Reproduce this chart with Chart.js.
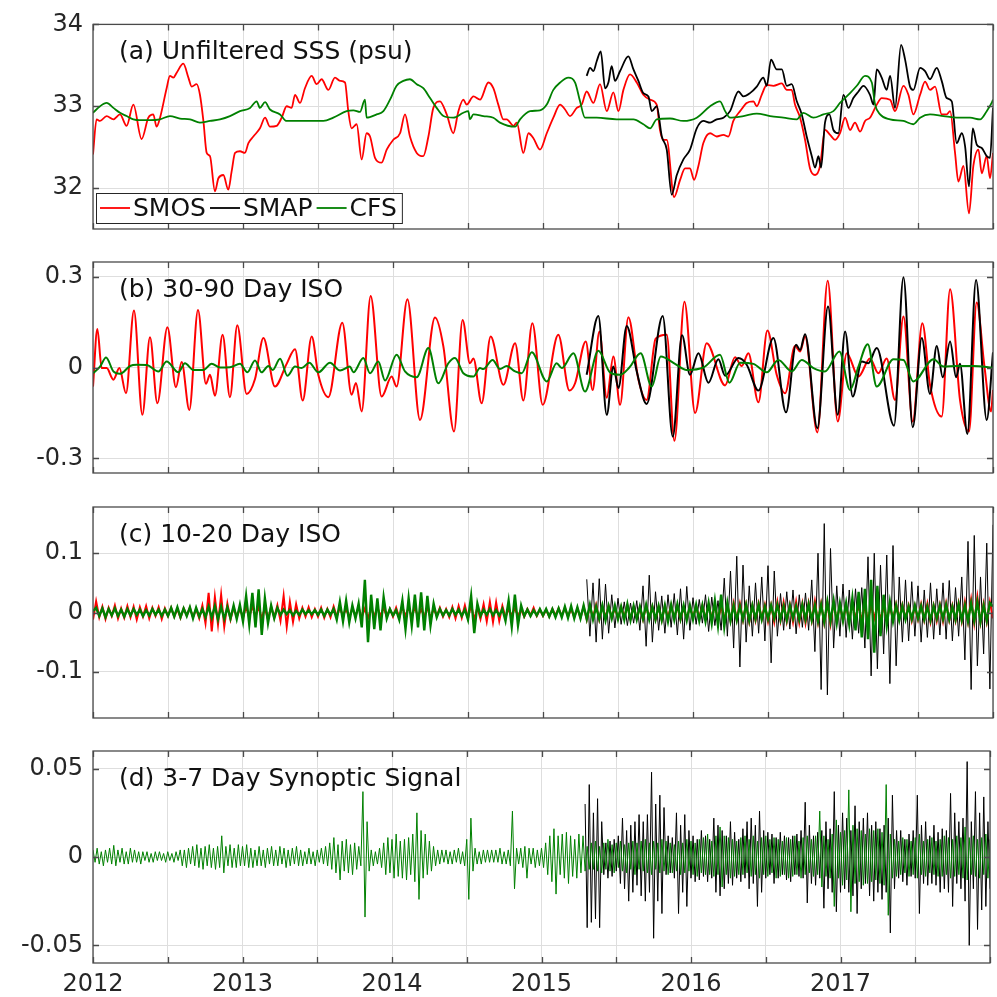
<!DOCTYPE html>
<html>
<head>
<meta charset="utf-8">
<script src="https://cdn.jsdelivr.net/npm/chart.js@4.4.1/dist/chart.umd.min.js"></script>
<style>
html, body { margin: 0; padding: 0; background: #fff; }
#wrap { position: relative; width: 997px; height: 997px; overflow: hidden; }
#wrap canvas { position: absolute; left: 0; top: 0; }
</style>
</head>
<body>
<div id="wrap">
  <canvas id="pa" width="997" height="997"></canvas>
  <canvas id="pb" width="997" height="997"></canvas>
  <canvas id="pc" width="997" height="997"></canvas>
  <canvas id="pd" width="997" height="997"></canvas>
</div>
<script>
'use strict';
// ---- axis / labels ----
const xTicks = [2012, 2012.5, 2013, 2013.5, 2014, 2014.5, 2015, 2015.5, 2016, 2016.5, 2017, 2017.5, 2018];
const titles = ['(a) Unfiltered SSS (psu)', '(b) 30-90 Day ISO', '(c) 10-20 Day ISO', '(d) 3-7 Day Synoptic Signal'];
const seriesNames = ['SMOS', 'SMAP', 'CFS'];
const yTicksA = [32, 33, 34];
const yTicksB = [-0.3, 0, 0.3];
const yTicksC = [-0.1, 0, 0.1];
const yTicksD = [-0.05, 0, 0.05];

// ---- (a) unfiltered SSS, [year, psu] ----
const smosA = [[2012.000,32.41],[2012.024,32.84],[2012.047,32.82],[2012.091,32.88],[2012.136,32.84],[2012.180,32.90],[2012.224,32.76],[2012.269,33.02],[2012.324,32.60],[2012.369,32.86],[2012.402,32.90],[2012.424,32.75],[2012.447,32.86],[2012.491,33.22],[2012.513,33.37],[2012.536,33.35],[2012.558,33.41],[2012.602,33.52],[2012.636,33.35],[2012.658,33.24],[2012.691,33.27],[2012.713,33.14],[2012.736,32.82],[2012.758,32.43],[2012.780,32.39],[2012.813,31.96],[2012.836,32.12],[2012.869,32.16],[2012.902,31.98],[2012.924,32.20],[2012.947,32.43],[2012.980,32.45],[2013.013,32.43],[2013.036,32.55],[2013.069,32.63],[2013.113,32.73],[2013.147,32.86],[2013.180,32.75],[2013.224,32.76],[2013.258,32.86],[2013.291,33.00],[2013.324,32.98],[2013.347,33.14],[2013.380,33.04],[2013.413,33.22],[2013.458,33.37],[2013.491,33.27],[2013.524,33.33],[2013.569,33.20],[2013.613,33.35],[2013.647,33.31],[2013.680,33.29],[2013.702,32.94],[2013.724,32.73],[2013.758,32.78],[2013.791,32.35],[2013.824,32.67],[2013.847,32.63],[2013.880,32.37],[2013.924,32.31],[2013.958,32.47],[2014.002,32.59],[2014.047,32.67],[2014.080,32.90],[2014.113,32.63],[2014.158,32.43],[2014.202,32.39],[2014.236,32.63],[2014.269,32.98],[2014.313,33.06],[2014.358,32.90],[2014.402,32.67],[2014.436,32.94],[2014.469,33.08],[2014.491,33.02],[2014.536,33.12],[2014.580,33.08],[2014.636,33.29],[2014.669,33.22],[2014.702,33.02],[2014.736,32.84],[2014.758,32.84],[2014.803,32.76],[2014.825,32.80],[2014.869,32.43],[2014.903,32.67],[2014.936,32.61],[2014.980,32.47],[2015.025,32.67],[2015.069,32.86],[2015.114,33.02],[2015.147,32.96],[2015.180,32.88],[2015.225,32.98],[2015.258,33.02],[2015.291,33.18],[2015.336,33.04],[2015.380,33.27],[2015.425,32.94],[2015.469,33.17],[2015.503,32.94],[2015.536,33.20],[2015.580,33.39],[2015.625,33.29],[2015.669,33.14],[2015.714,33.08],[2015.758,33.02],[2015.780,32.71],[2015.803,32.59],[2015.825,32.59],[2015.874,31.89],[2015.914,32.10],[2015.947,32.24],[2015.980,32.24],[2016.007,32.10],[2016.036,32.27],[2016.069,32.55],[2016.114,32.67],[2016.158,32.63],[2016.203,32.65],[2016.236,32.63],[2016.269,32.82],[2016.314,32.94],[2016.358,33.04],[2016.403,33.06],[2016.425,33.00],[2016.458,33.14],[2016.492,33.26],[2016.536,33.25],[2016.592,33.28],[2016.625,33.20],[2016.658,33.20],[2016.680,33.02],[2016.714,32.86],[2016.747,32.59],[2016.780,32.24],[2016.814,32.16],[2016.847,32.27],[2016.880,32.71],[2016.914,32.65],[2016.947,32.59],[2016.980,32.67],[2017.014,32.86],[2017.047,32.71],[2017.080,32.80],[2017.114,32.69],[2017.147,32.82],[2017.180,32.86],[2017.225,33.02],[2017.258,33.10],[2017.314,33.08],[2017.347,32.94],[2017.403,33.25],[2017.436,33.14],[2017.469,32.90],[2017.514,33.14],[2017.547,33.30],[2017.580,33.20],[2017.614,33.24],[2017.658,32.90],[2017.691,32.90],[2017.714,32.94],[2017.747,32.43],[2017.769,32.08],[2017.803,32.27],[2017.840,31.69],[2017.869,32.27],[2017.903,32.47],[2017.925,32.18],[2017.958,32.39],[2017.980,32.12],[2018.000,32.43]];
const smapA = [[2015.291,33.37],[2015.314,33.47],[2015.336,33.43],[2015.358,33.55],[2015.385,33.67],[2015.414,33.22],[2015.436,33.29],[2015.458,33.49],[2015.480,33.31],[2015.514,33.43],[2015.569,33.61],[2015.603,33.45],[2015.636,33.31],[2015.669,33.16],[2015.703,33.12],[2015.725,32.94],[2015.758,33.00],[2015.792,32.63],[2015.825,32.47],[2015.858,31.92],[2015.892,32.16],[2015.936,32.35],[2015.980,32.47],[2016.025,32.73],[2016.069,32.82],[2016.114,32.80],[2016.158,32.84],[2016.203,32.86],[2016.247,32.94],[2016.303,33.18],[2016.336,33.12],[2016.380,33.16],[2016.425,33.24],[2016.469,33.35],[2016.492,33.25],[2016.520,33.57],[2016.558,33.45],[2016.592,33.45],[2016.625,33.25],[2016.658,33.27],[2016.692,33.06],[2016.725,32.90],[2016.758,32.63],[2016.792,32.39],[2016.814,32.25],[2016.836,32.39],[2016.854,32.25],[2016.880,32.80],[2016.909,32.90],[2016.936,32.71],[2016.969,32.67],[2017.003,33.14],[2017.036,32.98],[2017.069,33.10],[2017.103,33.18],[2017.136,33.25],[2017.180,33.14],[2017.203,33.02],[2017.225,33.45],[2017.258,33.35],[2017.291,33.20],[2017.314,33.37],[2017.347,32.98],[2017.387,33.75],[2017.414,33.57],[2017.447,33.24],[2017.469,33.20],[2017.514,33.47],[2017.547,33.43],[2017.580,33.33],[2017.625,33.47],[2017.658,33.31],[2017.691,33.10],[2017.725,33.06],[2017.758,32.55],[2017.792,32.67],[2017.814,32.51],[2017.840,32.02],[2017.865,32.73],[2017.892,32.53],[2017.925,32.49],[2017.958,32.39],[2017.980,32.37],[2018.000,32.98]];
const cfsA = [[2012.000,32.92],[2012.047,33.00],[2012.091,33.04],[2012.136,32.98],[2012.180,32.92],[2012.224,32.88],[2012.269,32.84],[2012.313,32.83],[2012.380,32.83],[2012.447,32.84],[2012.513,32.88],[2012.580,32.85],[2012.647,32.84],[2012.713,32.80],[2012.780,32.82],[2012.847,32.84],[2012.913,32.88],[2012.980,32.94],[2013.047,32.98],[2013.091,33.06],[2013.113,32.98],[2013.147,33.05],[2013.180,32.96],[2013.247,32.90],[2013.291,32.82],[2013.380,32.82],[2013.469,32.82],[2013.536,32.82],[2013.602,32.86],[2013.691,32.94],[2013.736,32.95],[2013.780,32.93],[2013.813,33.08],[2013.824,32.86],[2013.891,32.90],[2013.936,32.94],[2013.980,33.08],[2014.024,33.25],[2014.069,33.31],[2014.113,33.33],[2014.158,33.27],[2014.202,33.22],[2014.247,33.10],[2014.291,32.98],[2014.336,32.88],[2014.402,32.86],[2014.469,32.92],[2014.502,32.94],[2014.513,32.84],[2014.536,32.90],[2014.602,32.88],[2014.669,32.86],[2014.713,32.80],[2014.814,32.75],[2014.847,32.84],[2014.914,32.94],[2014.980,32.95],[2015.025,33.02],[2015.069,33.20],[2015.114,33.29],[2015.169,33.35],[2015.214,33.29],[2015.247,33.06],[2015.280,32.86],[2015.358,32.86],[2015.491,32.84],[2015.603,32.84],[2015.669,32.78],[2015.714,32.73],[2015.758,32.84],[2015.847,32.85],[2015.936,32.82],[2016.025,32.86],[2016.114,33.00],[2016.180,33.06],[2016.214,32.94],[2016.247,32.86],[2016.336,32.88],[2016.425,32.91],[2016.514,32.88],[2016.603,32.86],[2016.692,32.84],[2016.736,32.92],[2016.803,32.86],[2016.869,32.90],[2016.936,32.94],[2016.980,33.04],[2017.047,33.16],[2017.092,33.25],[2017.147,33.37],[2017.192,33.29],[2017.214,33.02],[2017.247,32.90],[2017.314,32.84],[2017.403,32.82],[2017.469,32.78],[2017.514,32.86],[2017.580,32.90],[2017.669,32.88],[2017.758,32.86],[2017.847,32.86],[2017.914,32.84],[2017.958,32.94],[2017.991,33.04],[2018.000,33.08]];

// ---- (b) 30-90 day band, [year, psu] ----
const smosB = [[2012.000,-0.063],[2012.029,0.127],[2012.058,-0.002],[2012.091,-0.002],[2012.136,-0.040],[2012.176,-0.002],[2012.220,-0.085],[2012.273,0.188],[2012.329,-0.156],[2012.380,0.100],[2012.429,-0.118],[2012.496,0.133],[2012.553,-0.065],[2012.591,0.018],[2012.642,-0.140],[2012.700,0.190],[2012.753,-0.054],[2012.780,-0.024],[2012.813,-0.093],[2012.864,0.108],[2012.913,-0.098],[2012.962,0.139],[2013.024,-0.087],[2013.080,-0.038],[2013.136,0.097],[2013.213,-0.063],[2013.291,0.012],[2013.347,0.060],[2013.398,-0.109],[2013.458,0.102],[2013.502,-0.024],[2013.569,-0.098],[2013.662,0.148],[2013.724,-0.090],[2013.753,-0.051],[2013.791,-0.145],[2013.851,0.236],[2013.924,-0.096],[2013.991,-0.030],[2014.024,-0.063],[2014.096,0.225],[2014.180,-0.173],[2014.280,0.165],[2014.336,0.069],[2014.407,-0.211],[2014.464,0.157],[2014.513,0.014],[2014.536,0.030],[2014.591,-0.118],[2014.651,0.102],[2014.736,-0.057],[2014.814,0.080],[2014.869,-0.109],[2014.929,0.146],[2014.998,-0.123],[2015.102,0.108],[2015.176,-0.076],[2015.214,-0.052],[2015.285,0.086],[2015.331,-0.074],[2015.376,0.119],[2015.425,-0.100],[2015.469,0.036],[2015.514,-0.123],[2015.569,0.166],[2015.636,-0.040],[2015.691,-0.107],[2015.751,0.095],[2015.825,0.108],[2015.876,-0.242],[2015.943,0.217],[2016.014,-0.150],[2016.091,0.080],[2016.214,-0.059],[2016.280,0.034],[2016.325,0.005],[2016.369,0.047],[2016.436,-0.115],[2016.496,0.122],[2016.558,-0.024],[2016.614,-0.085],[2016.680,0.071],[2016.714,0.053],[2016.747,0.102],[2016.829,-0.214],[2016.898,0.286],[2016.965,-0.178],[2017.025,0.047],[2017.103,-0.030],[2017.180,0.030],[2017.236,-0.019],[2017.291,0.030],[2017.347,-0.107],[2017.403,0.168],[2017.465,-0.178],[2017.529,0.146],[2017.580,-0.057],[2017.658,-0.162],[2017.714,0.258],[2017.780,-0.107],[2017.840,-0.211],[2017.891,0.214],[2017.943,0.003],[2017.987,-0.145],[2018.000,-0.074]];
const smapB = [[2015.291,-0.024],[2015.369,0.170],[2015.425,-0.156],[2015.469,0.003],[2015.503,-0.068],[2015.558,0.137],[2015.625,-0.013],[2015.691,-0.120],[2015.798,0.170],[2015.865,-0.228],[2015.927,0.106],[2015.980,-0.024],[2016.036,0.047],[2016.103,-0.050],[2016.169,0.027],[2016.214,-0.027],[2016.303,0.031],[2016.358,0.009],[2016.436,-0.076],[2016.536,0.097],[2016.620,-0.148],[2016.687,0.075],[2016.714,0.058],[2016.747,0.110],[2016.829,-0.200],[2016.900,0.201],[2016.965,-0.156],[2017.014,0.119],[2017.065,-0.096],[2017.125,0.020],[2017.169,0.014],[2017.225,0.064],[2017.340,-0.192],[2017.403,0.298],[2017.465,-0.197],[2017.525,0.097],[2017.580,-0.087],[2017.625,0.071],[2017.665,-0.032],[2017.714,0.086],[2017.754,-0.032],[2017.780,0.012],[2017.829,-0.219],[2017.887,0.289],[2017.958,-0.173],[2018.000,0.050]];
const cfsB = [[2012.000,-0.019],[2012.047,0.003],[2012.087,0.033],[2012.136,-0.013],[2012.180,-0.021],[2012.247,0.005],[2012.291,0.009],[2012.358,0.008],[2012.436,-0.013],[2012.491,0.020],[2012.569,-0.016],[2012.613,0.014],[2012.669,-0.008],[2012.736,-0.008],[2012.791,0.012],[2012.847,0.000],[2012.913,0.001],[2012.980,0.012],[2013.029,-0.016],[2013.080,0.023],[2013.124,-0.016],[2013.169,0.005],[2013.198,-0.008],[2013.247,0.029],[2013.296,-0.027],[2013.347,0.003],[2013.391,-0.002],[2013.442,0.016],[2013.502,-0.016],[2013.580,0.016],[2013.647,-0.010],[2013.713,0.003],[2013.736,-0.016],[2013.802,0.031],[2013.847,-0.019],[2013.902,0.020],[2013.947,-0.043],[2014.024,0.042],[2014.080,-0.013],[2014.158,-0.032],[2014.236,0.064],[2014.302,-0.052],[2014.369,0.014],[2014.413,0.031],[2014.469,-0.019],[2014.536,-0.030],[2014.580,-0.002],[2014.602,-0.005],[2014.664,0.025],[2014.713,-0.005],[2014.758,0.005],[2014.814,-0.013],[2014.858,-0.019],[2014.925,0.050],[2015.025,-0.046],[2015.091,0.014],[2015.125,-0.002],[2015.203,0.047],[2015.280,-0.079],[2015.369,0.055],[2015.447,-0.016],[2015.514,-0.024],[2015.576,0.000],[2015.651,0.047],[2015.725,-0.063],[2015.785,0.036],[2015.880,0.012],[2015.958,-0.008],[2016.069,0.000],[2016.180,0.042],[2016.243,-0.050],[2016.314,0.016],[2016.403,0.012],[2016.492,-0.016],[2016.569,0.025],[2016.658,-0.013],[2016.725,0.025],[2016.803,-0.002],[2016.880,-0.013],[2016.976,0.053],[2017.047,-0.074],[2017.103,0.003],[2017.165,0.077],[2017.225,-0.063],[2017.336,0.027],[2017.403,0.025],[2017.469,-0.046],[2017.603,0.027],[2017.669,0.003],[2017.758,0.005],[2017.869,0.005],[2018.000,-0.001]];

// ---- (c) 10-20 day band, regular samples (start year, step in years) ----
const startC = 2012, stepC = 1 / 48;
const smosC = [
  -.012,.019,-.008,.010,-.011,.008,-.006,.012,-.010,.007,-.009,.011,
  -.008,.010,-.012,.009,-.007,.011,-.010,.008,-.006,.009,-.011,.007,
  -.006,.008,-.007,.006,-.009,.007,-.005,.008,-.008,.006,-.010,.012,
  -.018,.033,-.032,.026,-.020,.030,-.024,.015,-.012,.009,-.008,.007,
  -.009,.010,-.008,.011,-.007,.009,-.010,.008,-.012,.010,-.009,.012,
  -.014,.028,-.024,.018,-.016,.014,-.010,.008,-.007,.009,-.008,.006,
  -.007,.008,-.009,.006,-.008,.010,-.007,.008,-.006,.007,-.009,.008,
  -.006,.009,-.008,.007,-.010,.008,-.007,.009,-.006,.008,-.007,.006,
  -.007,.008,-.009,.010,-.006,.008,-.007,.009,-.008,.006,-.007,.008,
  -.009,.007,-.006,.008,-.007,.006,-.008,.009,-.010,.011,-.009,.012,
  -.010,.013,-.012,.009,-.011,.014,-.015,.018,-.016,.017,-.014,.011,
  -.008,.006,-.005,.007,-.006,.005,-.007,.006,-.005,.008,-.006,.005,
  -.006,.005,-.007,.006,-.005,.007,-.006,.008,-.007,.006,-.008,.007,
  -.009,.010,-.012,.011,-.009,.013,-.012,.010,-.008,.011,-.009,.008,
  -.010,.009,-.008,.012,-.011,.009,-.010,.008,-.012,.011,-.009,.010,
  -.012,.010,-.013,.011,-.009,.012,-.010,.011,-.012,.009,-.011,.010,
  -.008,.010,-.009,.012,-.011,.013,-.010,.012,-.014,.011,-.012,.013,
  -.014,.016,-.012,.015,-.013,.014,-.016,.012,-.014,.015,-.011,.013,
  -.015,.012,-.016,.018,-.014,.017,-.015,.013,-.016,.018,-.017,.015,
  -.018,.016,-.014,.019,-.017,.015,-.018,.016,-.020,.017,-.015,.012,
  -.013,.011,-.012,.014,-.010,.012,-.013,.011,-.014,.012,-.010,.013,
  -.012,.010,-.013,.011,-.012,.014,-.011,.013,-.010,.012,-.014,.011,
  -.012,.014,-.013,.015,-.016,.012,-.014,.013,-.015,.016,-.013,.012,
  -.014,.016,-.015,.018,-.016,.022,-.018,.026,-.017,.015,-.016,.018,
  -.010];
const cfsC = [
  .002,.008,-.006,.007,-.008,.006,-.005,.007,-.006,.005,-.007,.006,
  -.005,.006,-.004,.005,-.006,.004,-.005,.006,-.004,.005,-.006,.005,
  -.006,.008,-.007,.009,-.008,.007,-.006,.009,-.010,.008,-.007,.006,
  -.008,.010,-.009,.011,-.012,.010,-.011,.009,-.010,.012,-.011,.013,
  -.015,.028,-.020,.033,-.025,.039,-.038,.024,-.018,.012,-.010,.008,
  -.004,.005,-.003,.004,-.005,.003,-.004,.005,-.003,.004,-.003,.004,
  -.004,.005,-.006,.005,-.004,.006,-.012,.018,-.015,.020,-.017,.012,
  -.010,.015,-.025,.055,-.050,.030,-.028,.024,-.030,.026,-.010,.006,
  -.005,.004,-.012,.020,-.028,.024,-.022,.030,-.025,.034,-.030,.028,
  -.022,.015,-.008,.006,-.005,.004,-.005,.006,-.004,.005,-.006,.005,
  -.012,.028,-.035,.015,-.006,.005,-.004,.006,-.005,.004,-.005,.006,
  -.014,.020,-.024,.030,-.022,.012,-.006,.005,-.006,.004,-.005,.006,
  -.005,.006,-.007,.006,-.008,.007,-.008,.010,-.009,.011,-.010,.009,
  -.010,.012,-.011,.013,-.012,.010,-.011,.012,-.013,.011,-.010,.012,
  -.011,.010,-.012,.014,-.013,.011,-.012,.010,-.011,.013,-.012,.010,
  -.012,.011,-.013,.012,-.015,.013,-.012,.014,-.011,.012,-.013,.012,
  -.012,.013,-.014,.012,-.015,.016,-.018,.020,-.022,.030,-.024,.016,
  -.014,.012,-.013,.011,-.012,.013,-.014,.012,-.011,.013,-.012,.010,
  -.011,.012,-.010,.013,-.012,.011,-.013,.012,-.010,.011,-.012,.013,
  -.012,.014,-.013,.012,-.015,.013,-.016,.018,-.015,.020,-.018,.016,
  -.014,.016,-.020,.024,-.030,.035,-.042,.040,-.045,.055,-.068,.045,
  -.040,.030,-.022,.018,-.015,.012,-.013,.011,-.012,.010,-.011,.012,
  -.010,.011,-.012,.010,-.013,.011,-.010,.012,-.011,.013,-.012,.010,
  -.012,.014,-.013,.012,-.015,.016,-.014,.018,-.016,.012,-.014,.016,
  .010];
const smapStartC = 2015 + 14 / 48;
const smapC = [
  .056,-.040,.050,-.050,.057,-.045,.048,-.035,.030,
  -.026,.024,-.020,.018,-.022,.016,-.018,.020,
  -.030,.045,-.057,.063,-.050,.035,
  -.030,.028,-.035,.030,-.025,.032,-.038,.040,-.045,.044,-.030,
  .025,-.020,.022,-.018,.030,-.032,.026,-.022,.020,
  -.030,.058,-.040,.070,-.060,.095,-.092,.080,
  -.050,.045,-.040,.050,-.035,.060,-.048,.079,-.085,.070,
  -.040,.032,-.030,.035,-.028,.038,-.036,.030,-.025,.033,-.030,
  .055,-.066,.100,-.130,.150,-.139,.108,-.060,
  .045,-.040,.048,-.042,.038,-.045,.040,-.035,.042,
  -.060,.094,-.107,.100,-.095,.080,-.070,.097,-.120,.113,-.090,.060,-.050,
  .055,-.048,.052,-.040,.045,-.050,.038,-.042,.050,-.045,.040,-.038,
  .050,-.045,.054,-.048,.042,-.040,.060,
  -.080,.120,-.130,.130,-.090,.060,-.070,.117,-.129,.148];

// ---- (d) 3-7 day band, regular samples ----
const startD = 2012, stepD = 1 / 72;
const cfsD = [
  .004,-.003,.005,-.004,.003,-.005,.004,-.003,.005,-.004,.0066,-.005,.004,-.003,.005,-.004,.003,-.004,.005,-.003,.004,-.003,.003,-.004,
  .003,-.002,.003,-.003,.002,-.003,.003,-.002,.003,-.002,.002,-.003,.003,-.002,.002,-.003,.003,-.002,.004,-.005,.004,-.006,.005,-.004,
  .006,-.005,.007,-.006,.005,-.007,.006,-.005,.007,-.006,.005,-.007,.006,-.006,.012,-.009,.006,-.005,.007,-.006,.005,-.006,.007,-.005,
  .006,-.005,.007,-.006,.005,-.006,.004,-.005,.006,-.005,.004,-.006,.005,-.004,.006,-.005,.004,-.005,.006,-.004,.005,-.006,.004,-.005,
  .005,-.004,.006,-.005,.004,-.005,.003,-.004,.005,-.004,.003,-.005,.004,-.003,.005,-.004,.006,-.005,.008,-.007,.011,-.009,.007,-.013,
  .009,-.008,.010,-.009,.007,-.010,.008,-.007,.006,-.005,.037,-.034,.020,-.008,.004,-.005,.003,-.004,.005,-.006,.008,-.010,.011,-.009,
  .010,-.012,.013,-.011,.009,-.012,.010,-.013,.011,-.010,.013,-.014,.025,-.024,.015,-.012,.013,-.010,.009,-.008,.006,-.005,.004,-.004,
  .004,-.003,.004,-.004,.003,-.004,.004,-.003,.005,-.004,.003,-.005,.010,-.024,.022,-.008,.005,-.004,.003,-.004,.004,-.003,.004,-.003,
  .004,-.003,.004,-.003,.005,-.004,.003,-.004,.004,-.005,.026,-.018,.005,-.004,.005,-.006,.006,-.012,.005,-.004,.005,-.006,.004,-.005,
  .005,-.006,.008,-.010,.012,-.014,.016,-.021,.012,-.010,.013,-.012,.014,-.015,.012,-.011,.010,-.012,.013,-.009,.012,-.008,.006,-.007,
  .008,-.007,.009,-.008,.006,-.009,.008,-.007,.010,-.008,.007,-.009,.008,-.006,.009,-.008,.007,-.009,.008,-.007,.009,-.010,.008,-.007,
  .009,-.008,.010,-.009,.008,-.010,.009,-.007,.008,-.009,.010,-.008,.009,-.010,.008,-.009,.007,-.008,.009,-.010,.008,-.009,.010,-.008,
  .009,-.010,.008,-.011,.010,-.009,.011,-.010,.013,-.010,.009,-.011,.012,-.010,.017,-.017,.012,-.010,.011,-.012,.010,-.011,.009,-.010,
  .011,-.010,.012,-.009,.010,-.011,.012,-.010,.009,-.012,.011,-.010,.012,-.011,.010,-.009,.011,-.012,.010,-.011,.009,-.010,.011,-.012,
  .010,-.011,.012,-.010,.009,-.012,.011,-.010,.012,-.009,.010,-.011,.012,-.010,.026,-.017,.012,-.011,.010,-.012,.013,-.028,.021,-.012,
  .014,-.016,.015,-.013,.038,-.031,.018,-.015,.016,-.014,.015,-.016,.013,-.015,.016,-.014,.015,-.013,.016,-.015,.014,-.016,.041,-.033,
  .013,-.012,.010,-.011,.009,-.010,.011,-.009,.010,-.011,.009,-.010,.011,-.012,.013,-.010,.009,-.011,.010,-.009,.011,-.010,.009,-.011,
  .010,-.011,.012,-.010,.011,-.012,.010,-.011,.012,-.010,.011,-.012,.017,-.013,.011,-.010,.012,-.011,.010,-.012,.011,-.010,.013,-.012,
  .010];
const smapStartD = 2015 + 21 / 72;
const smapD = [
  .030,-.040,.041,-.037,.025,-.035,.033,-.040,.020,
  -.010,.008,-.012,.009,-.011,.010,-.008,.012,
  -.015,.022,-.018,.015,-.025,.018,-.020,.020,-.016,.024,-.022,.020,-.025,.024,-.020,.048,-.046,.030,-.025,.035,-.032,.028,
  -.010,.012,-.009,.011,-.012,
  .025,-.032,.018,-.020,.024,-.028,.015,-.012,
  .012,-.014,.010,-.013,.015,-.011,.012,-.014,.010,-.012,
  .022,-.020,.018,-.022,.015,-.018,.012,-.015,.020,-.016,.014,-.012,.010,-.014,.016,-.012,.020,-.018,.022,-.015,.018,-.028,.026,-.020,.015,
  -.012,.014,-.010,.013,-.015,.011,-.012,.014,-.010,.012,-.013,.011,-.014,.012,-.010,.013,-.011,
  .015,-.012,.031,-.026,.018,-.015,.012,-.016,.014,-.012,
  .015,-.029,.020,-.018,.016,-.020,.037,-.031,.018,
  -.020,.025,-.018,.022,-.020,.015,-.022,.029,-.032,.020,-.018,.022,-.015,.025,-.022,.018,-.025,.020,-.020,.016,-.024,.018,-.020,.022,-.043,.035,-.018,.015,
  -.012,.015,-.014,.010,-.016,.013,-.011,.015,-.012,
  .035,-.032,.018,-.015,.020,-.016,.012,
  -.015,.018,-.016,.014,-.020,.016,-.018,.015,-.020,.036,-.028,.025,-.015,.020,
  -.018,.022,-.025,.054,-.050,.020,-.018,
  .037,-.041,.025,-.030,.034,-.028,.020,-.018];

const RED = '#ff0000', BLACK = '#000000', GREEN = '#008000';
const GRID = '#dedede', FRAME = '#4a4a4a', TEXT = '#262626';
Chart.defaults.font.family = '"DejaVu Sans", sans-serif';

function pairs(list){ return list.map(p => ({x: p[0], y: p[1]})); }
function regular(start, step, list){ return list.map((v, i) => ({x: start + i * step, y: v})); }

// inward ticks, box, panel title and the legend, MATLAB style
const framePlugin = {
    id: 'frame',
    afterDatasetsDraw(chart, args, opts){
        const ctx = chart.ctx;
        const a = chart.chartArea;
        const xs = chart.scales.x, ys = chart.scales.y;
        ctx.save();
        ctx.strokeStyle = FRAME;
        ctx.lineWidth = 1.3;
        ctx.strokeRect(a.left, a.top, a.right - a.left, a.bottom - a.top);
        ctx.beginPath();
        xTicks.forEach(v => {
            const px = Math.round(xs.getPixelForValue(v)) + 0.5;
            ctx.moveTo(px, a.top); ctx.lineTo(px, a.top + 6);
            ctx.moveTo(px, a.bottom); ctx.lineTo(px, a.bottom - 6);
        });
        opts.yTicks.forEach(v => {
            const py = Math.round(ys.getPixelForValue(v)) + 0.5;
            ctx.moveTo(a.left, py); ctx.lineTo(a.left + 6, py);
            ctx.moveTo(a.right, py); ctx.lineTo(a.right - 6, py);
        });
        ctx.stroke();

        ctx.fillStyle = '#111';
        ctx.font = '25px "DejaVu Sans"';
        ctx.textBaseline = 'alphabetic';
        ctx.textAlign = 'left';
        ctx.fillText(opts.title, a.left + 26, a.top + 35);

        if(opts.legend){
            const bx = a.left + 3, by = a.bottom - 36, bh = 30;
            let x = bx + 4;
            const items = chart.data.datasets.map(d => ({label: d.label, color: d.borderColor}));
            let w = 4;
            items.forEach(it => { w += 33 + ctx.measureText(it.label).width + 4; });
            ctx.fillStyle = '#fff';
            ctx.fillRect(bx, by, w + 1, bh);
            ctx.strokeStyle = TEXT;
            ctx.lineWidth = 1;
            ctx.strokeRect(bx + 0.5, by + 0.5, w + 1, bh);
            const my = by + bh / 2;
            ctx.textBaseline = 'middle';
            items.forEach(it => {
                ctx.strokeStyle = it.color;
                ctx.lineWidth = 1.8;
                ctx.beginPath(); ctx.moveTo(x, my); ctx.lineTo(x + 30, my); ctx.stroke();
                x += 33;
                ctx.fillStyle = '#111';
                ctx.fillText(it.label, x, my + 1);
                x += ctx.measureText(it.label).width + 4;
            });
        }
        ctx.restore();
    }
};

const panels = [
    {id: 'pa', top: 16, bottom: 229, min: 31.5, max: 34.0, yTicks: yTicksA, title: titles[0], legend: true, xLabels: false,
     sets: [
        {name: seriesNames[0], data: pairs(smosA), color: RED, width: 1.8, order: 2, smooth: true},
        {name: seriesNames[1], data: pairs(smapA), color: BLACK, width: 1.8, order: 1, smooth: true},
        {name: seriesNames[2], data: pairs(cfsA), color: GREEN, width: 1.8, order: 0, smooth: true}]},
    {id: 'pb', top: 262, bottom: 473, min: -0.348, max: 0.348, yTicks: yTicksB, title: titles[1], legend: false, xLabels: false,
     sets: [
        {name: seriesNames[0], data: pairs(smosB), color: RED, width: 2, order: 2, smooth: true},
        {name: seriesNames[1], data: pairs(smapB), color: BLACK, width: 2, order: 1, smooth: true},
        {name: seriesNames[2], data: pairs(cfsB), color: GREEN, width: 2, order: 0, smooth: true}]},
    {id: 'pc', top: 507, bottom: 718, min: -0.178, max: 0.178, yTicks: yTicksC, title: titles[2], legend: false, xLabels: false,
     sets: [
        {name: seriesNames[0], data: regular(startC, stepC, smosC), color: RED, width: 2, order: 1, smooth: false},
        {name: seriesNames[1], data: regular(smapStartC, stepC, smapC), color: BLACK, width: 1, order: 2, smooth: false},
        {name: seriesNames[2], data: regular(startC, stepC, cfsC), color: GREEN, width: 2.4, order: 0, smooth: false}]},
    {id: 'pd', top: 751, bottom: 963, min: -0.06, max: 0.06, yTicks: yTicksD, title: titles[3], legend: false, xLabels: true,
     sets: [
        {name: seriesNames[1], data: regular(smapStartD, stepD, smapD), color: BLACK, width: 1, order: 1, smooth: false},
        {name: seriesNames[2], data: regular(startD, stepD, cfsD), color: GREEN, width: 1, order: 0, smooth: false}]}
];

panels.forEach(p => {
    const H = 997;
    new Chart(document.getElementById(p.id), {
        type: 'line',
        data: {
            datasets: p.sets.map(s => ({
                label: s.name,
                data: s.data,
                borderColor: s.color,
                backgroundColor: s.color,
                borderWidth: s.width,
                order: s.order,
                pointRadius: 0,
                fill: false,
                tension: 0,
                cubicInterpolationMode: s.smooth ? 'monotone' : 'default'
            }))
        },
        options: {
            responsive: false,
            animation: false,
            events: [],
            layout: {padding: {top: p.top, right: 4, bottom: 0, left: 0}},
            plugins: {
                legend: {display: false},
                tooltip: {enabled: false},
                frame: {title: p.title, legend: p.legend, yTicks: p.yTicks}
            },
            scales: {
                x: {
                    type: 'linear',
                    min: 2012, max: 2018,
                    afterBuildTicks: s => { s.ticks = xTicks.map(v => ({value: v})); },
                    afterFit: s => { s.height = H - p.bottom; },
                    grid: {color: GRID, lineWidth: 1, drawTicks: false},
                    border: {display: false},
                    ticks: {
                        display: p.xLabels,
                        autoSkip: false,
                        maxRotation: 0,
                        padding: 7,
                        color: TEXT,
                        font: {size: 24},
                        callback: v => (Number.isInteger(v) && v < 2018) ? String(v) : ''
                    }
                },
                y: {
                    min: p.min, max: p.max,
                    afterBuildTicks: s => { s.ticks = p.yTicks.map(v => ({value: v})); },
                    afterFit: s => { s.width = 93; },
                    grid: {color: GRID, lineWidth: 1, drawTicks: false},
                    border: {display: false},
                    ticks: {
                        padding: 10,
                        color: TEXT,
                        font: {size: 24},
                        callback: v => String(v)
                    }
                }
            }
        },
        plugins: [framePlugin]
    });
});
</script>
</body>
</html>
